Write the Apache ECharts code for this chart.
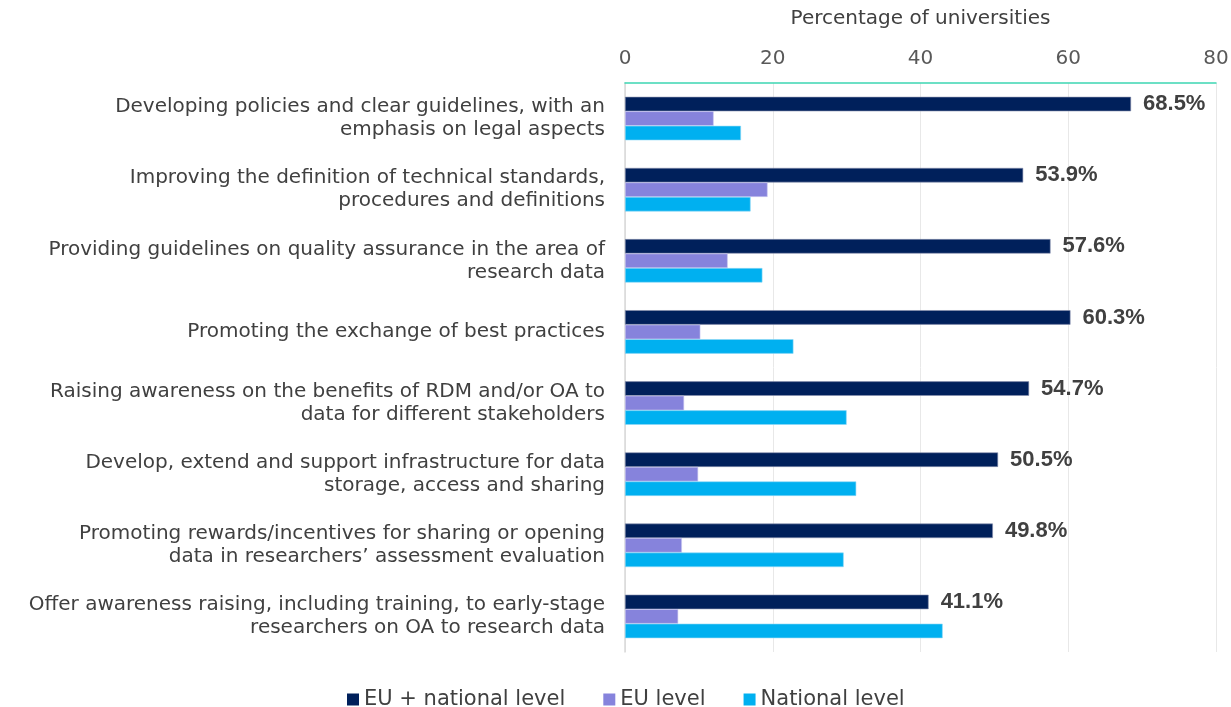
<!DOCTYPE html>
<html>
<head>
<meta charset="utf-8">
<script src="https://cdn.jsdelivr.net/npm/echarts@6/dist/echarts.min.js"></script>
<style>html,body{margin:0;padding:0;background:#fff;}#c{width:1231px;height:707px;}</style>
</head>
<body>
<div id="c"></div>
<script>
const categories = [
  "Developing policies and clear guidelines, with an\nemphasis on legal aspects",
  "Improving the definition of technical standards,\nprocedures and definitions",
  "Providing guidelines on quality assurance in the area of\nresearch data",
  "Promoting the exchange of best practices",
  "Raising awareness on the benefits of RDM and/or OA to\ndata for different stakeholders",
  "Develop, extend and support infrastructure for data\nstorage, access and sharing",
  "Promoting rewards/incentives for sharing or opening\ndata in researchers\u2019 assessment evaluation",
  "Offer awareness raising, including training, to early-stage\nresearchers on OA to research data"
];
const seriesNames = ["EU + national level", "EU level", "National level"];
const euNational = [68.5, 53.9, 57.6, 60.3, 54.7, 50.5, 49.8, 41.1];
const euLevel = [12.0, 19.3, 13.9, 10.2, 8.0, 9.9, 7.7, 7.2];
const nationalLevel = [15.7, 17.0, 18.6, 22.8, 30.0, 31.3, 29.6, 43.0];
const xTicks = [0, 20, 40, 60, 80];

const chart = echarts.init(document.getElementById('c'), null, {renderer: 'canvas'});
const font = "'DejaVu Sans', Verdana, sans-serif";
const fs = 20;
const colors = ['#00205B', '#8683DC', '#00B0F0'];
const barW = 14.5;
chart.setOption({
  animation: false,
  color: colors,
  grid: {left: 625, right: 15, top: 83, bottom: 55, containLabel: false, outerBoundsMode: 'none'},
  legend: {
    left: 342, top: 684,
    itemWidth: 12, itemHeight: 12, itemGap: 38,
    icon: 'rect',
    itemStyle: {borderWidth: 0},
    textStyle: {fontFamily: font, fontSize: 21, color: '#404040'},
    data: seriesNames
  },
  xAxis: {
    type: 'value', position: 'top',
    min: xTicks[0], max: xTicks[xTicks.length - 1], interval: 20,
    name: 'Percentage of universities', nameLocation: 'middle', nameGap: 54,
    nameTextStyle: {fontFamily: font, fontSize: fs, color: '#404040'},
    axisLine: {show: true, lineStyle: {color: '#3DD6B2', width: 1.5}},
    axisTick: {show: false},
    axisLabel: {fontFamily: font, fontSize: fs, color: '#595959', margin: 14},
    splitLine: {show: true, lineStyle: {color: '#E8E8E8', width: 1}}
  },
  yAxis: {
    type: 'category', inverse: true, data: categories,
    axisLine: {show: true, lineStyle: {color: '#D9D9D9', width: 1.5}},
    axisTick: {show: false},
    axisLabel: {fontFamily: font, fontSize: fs, color: '#404040', margin: 20, align: 'right', lineHeight: 23}
  },
  series: [
    {
      name: seriesNames[0], type: 'bar', data: euNational, barWidth: barW, barGap: '0%',
      itemStyle: {color: colors[0], borderColor: '#8891AE', borderWidth: 0.6},
      label: {show: true, position: 'right', distance: 12,
        formatter: p => p.value.toFixed(1) + '%',
        fontFamily: "'Liberation Sans', Arial, sans-serif", fontSize: 22, fontWeight: 'bold', color: '#404040'}
    },
    {
      name: seriesNames[1], type: 'bar', data: euLevel, barWidth: barW, barGap: '0%',
      itemStyle: {color: colors[1], borderColor: '#C9C8F0', borderWidth: 0.6}
    },
    {
      name: seriesNames[2], type: 'bar', data: nationalLevel, barWidth: barW, barGap: '0%',
      itemStyle: {color: colors[2], borderColor: '#8FD8F6', borderWidth: 0.6}
    }
  ]
});
</script>
</body>
</html>
